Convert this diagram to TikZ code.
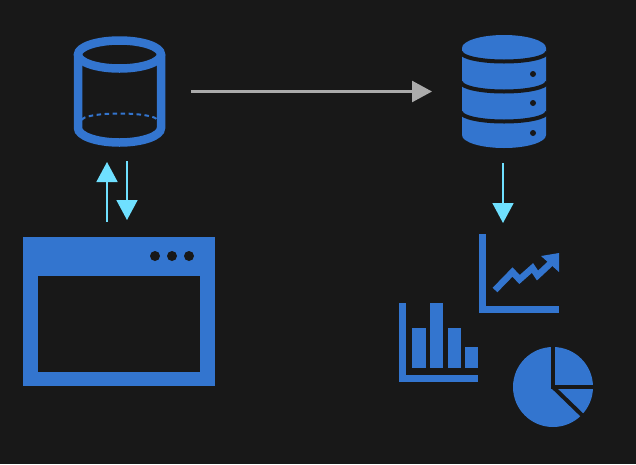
\documentclass[tikz,border=0pt]{standalone}
\usetikzlibrary{arrows.meta}
\definecolor{bgdark}{HTML}{181818}
\definecolor{iconblue}{HTML}{3375CF}
\definecolor{flowcyan}{HTML}{6FE0FF}
\definecolor{flowgray}{HTML}{ABABAB}
\tikzset{
  iconbox/.style={inner sep=0pt, outer sep=0pt},
  cyanflow/.style={draw=flowcyan, line width=1.7pt, -{Triangle[length=20pt,width=21pt,fill=flowcyan]}},
  grayflow/.style={draw=flowgray, line width=2.5pt, -{Triangle[length=20pt,width=21pt,fill=flowgray]}}
}
\begin{document}
\begin{tikzpicture}[x=1pt, y=-1pt]
   \useasboundingbox (0,0) rectangle (636,464);
   \fill[bgdark] (0,0) rectangle (636,464);

   \node[iconbox, minimum width=91pt, minimum height=111pt] (lake) at (119.5,91.5) {};
   \node[iconbox, minimum width=84pt, minimum height=113pt] (store) at (504,91.5) {};
   \node[iconbox, minimum width=192pt, minimum height=149pt] (app) at (119,311.5) {};
   \node[iconbox, minimum width=80pt, minimum height=79pt] (linechart) at (519,273.5) {};
   \node[iconbox, minimum width=79pt, minimum height=79pt] (barchart) at (438.5,342.5) {};
   \node[iconbox, minimum width=80pt, minimum height=80pt] (piechart) at (553,387) {};

   % empty cylinder
   \begin{scope}[draw=iconblue, line width=8.5pt]
    \draw (119.5,54.5) ellipse [x radius=41.5pt, y radius=14pt];
    \draw (78,54.5) -- (78,128) arc [start angle=180, end angle=360, x radius=41.5pt, y radius=14.5pt] -- (161,54.5);
    \draw[line width=2pt, dash pattern=on 4.5pt off 3.5pt] (82,120) arc [start angle=180, end angle=0, x radius=37.5pt, y radius=6.5pt];
   \end{scope}

   % full cylinder
   \fill[iconblue] (462,48) arc [start angle=180, end angle=0, x radius=42pt, y radius=13pt] -- (546,135) arc [start angle=360, end angle=180, x radius=42pt, y radius=13pt] -- cycle;
   \begin{scope}[draw=bgdark, line width=4pt]
    \foreach \ytop in {52,82,112} {
      \draw (461,\ytop) arc [start angle=180, end angle=360, x radius=43pt, y radius=9.5pt];
    }
   \end{scope}
   \foreach \ydot in {74,103,133} {
     \fill[bgdark] (533,\ydot) circle [radius=3pt];
   }

   % window
   \fill[iconblue] (23,237) rectangle (215,386);
   \fill[bgdark] (38,276) rectangle (200,372);
   \foreach \xdot in {155,172,189} {
     \fill[bgdark] (\xdot,256) circle [radius=5pt];
   }

   % line chart
   \draw[iconblue, line width=7pt] (482.5,234) -- (482.5,309.5) -- (559,309.5);
   \draw[iconblue, line width=6.5pt] (495,290) -- (512.5,272) -- (519.5,279.5) -- (532.5,268) -- (537.5,275.5) -- (552,262);
   \fill[iconblue] (541,256) -- (559,253) -- (559,272) -- cycle;

   % bar chart
   \draw[iconblue, line width=7pt] (402.5,303) -- (402.5,378.5) -- (478,378.5);
   \fill[iconblue] (412,328) rectangle (426,368);
   \fill[iconblue] (430,303) rectangle (443,368);
   \fill[iconblue] (448,328) rectangle (461,368);
   \fill[iconblue] (465,347) rectangle (478,368);

   % pie chart
   \fill[iconblue] (553,387) circle [radius=40pt];
   \draw[bgdark, line width=4pt] (553,345) -- (553,387) -- (595,387);
   \draw[bgdark, line width=4pt] (553,387) -- (584,417);

   \draw[grayflow, shorten <=26pt, shorten >=30pt] (lake.east) -- (store.west);
   \draw[cyanflow, shorten <=15pt, shorten >=15pt] ([xshift=-12pt]app.north) -- ([xshift=-12pt]app.north |- lake.south);
   \draw[cyanflow, shorten <=14pt, shorten >=17pt] ([xshift=8pt]app.north |- lake.south) -- ([xshift=8pt]app.north);
   \draw[cyanflow, shorten <=15pt, shorten >=11pt] ([xshift=-1pt]store.south) -- ([xshift=-1pt]store.south |- linechart.north);
\end{tikzpicture}
\end{document}
